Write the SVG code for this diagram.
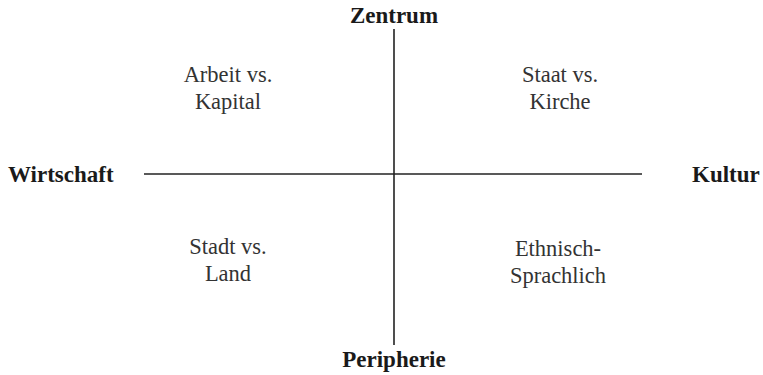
<svg xmlns="http://www.w3.org/2000/svg" width="763" height="375" viewBox="0 0 763 375">
<style>
.axis{font-family:"Liberation Serif",serif;font-weight:bold;font-size:23px;fill:#1a1a1a}
.q{font-family:"Liberation Serif",serif;font-size:22.5px;fill:#333;text-anchor:middle}
.ln{stroke:#222;stroke-width:1.6;fill:none}
</style>
<rect width="763" height="375" fill="#fff"/>
<g id="connectors">
<line class="ln" x1="394" y1="29" x2="394" y2="345"/>
<line class="ln" x1="144" y1="174" x2="642" y2="174"/>
</g>
<g id="zentrum"><text class="axis" x="394" y="23" text-anchor="middle">Zentrum</text></g>
<g id="peripherie"><text class="axis" x="394" y="367" text-anchor="middle">Peripherie</text></g>
<g id="wirtschaft"><text class="axis" x="8" y="182">Wirtschaft</text></g>
<g id="kultur"><text class="axis" x="692" y="182">Kultur</text></g>
<g id="q1"><text class="q" x="228" y="82">Arbeit vs.</text><text class="q" x="228" y="109">Kapital</text></g>
<g id="q2"><text class="q" x="560" y="82">Staat vs.</text><text class="q" x="560" y="109">Kirche</text></g>
<g id="q3"><text class="q" x="228" y="254">Stadt vs.</text><text class="q" x="228" y="281">Land</text></g>
<g id="q4"><text class="q" x="558" y="256">Ethnisch-</text><text class="q" x="558" y="283">Sprachlich</text></g>
</svg>
